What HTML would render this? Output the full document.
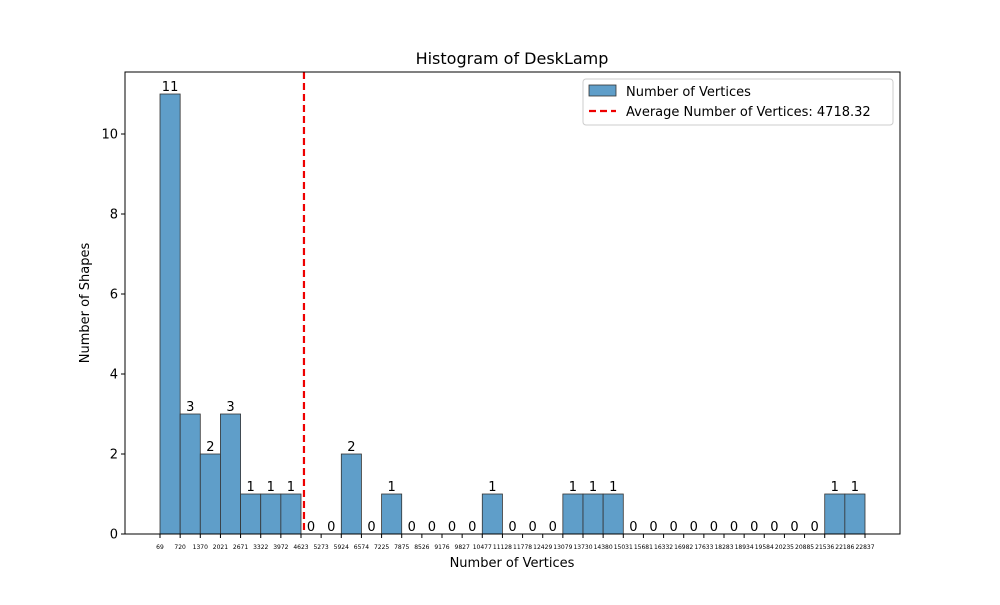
<!DOCTYPE html>
<html><head><meta charset="utf-8"><style>body{margin:0;background:#fff}svg{font-family:"DejaVu Sans","Liberation Sans",sans-serif}</style></head>
<body>
<svg width="1000" height="600" viewBox="0 0 1000 600">
<g id="bars"></g><g id="ticks"></g>
<line id="avg" y1="72" y2="534" stroke="#e00" stroke-width="2.2" stroke-dasharray="7,4"/>
<rect x="125" y="72" width="775" height="462" fill="none" stroke="#000" stroke-width="1"/>
<text x="512" y="64" text-anchor="middle" font-size="16">Histogram of DeskLamp</text>
<text x="512" y="567" text-anchor="middle" font-size="13">Number of Vertices</text>
<text transform="translate(89,303) rotate(-90)" text-anchor="middle" font-size="13">Number of Shapes</text>
<g>
<rect x="583" y="79" width="310" height="46" fill="#fff" stroke="#ccc" rx="3"/>
<rect x="589" y="85" width="27" height="11" fill="#5f9ec9" stroke="#333" stroke-width="0.8"/>
<text x="626" y="96" font-size="13">Number of Vertices</text>
<line x1="589" x2="616" y1="111" y2="111" stroke="#e00" stroke-width="2.2" stroke-dasharray="7,4"/>
<text x="626" y="116" font-size="13">Average Number of Vertices: 4718.32</text>
</g>
</svg>
<script>
const edges=[69,720,1370,2021,2671,3322,3972,4623,5273,5924,6574,7225,7875,8526,9176,9827,10477,11128,11778,12429,13079,13730,14380,15031,15681,16332,16982,17633,18283,18934,19584,20235,20885,21536,22186,22837];
const counts=[11,3,2,3,1,1,1,0,0,2,0,1,0,0,0,0,1,0,0,0,1,1,1,0,0,0,0,0,0,0,0,0,0,1,1];
const yTicks=[0,2,4,6,8,10];
const average=4718.32;
const ns="http://www.w3.org/2000/svg";
const x=v=>160+(v-69)/(22837-69)*705;
const y=v=>534-v*40;
const bars=document.getElementById('bars'),ticks=document.getElementById('ticks');
function mk(t,a,p){const e=document.createElementNS(ns,t);for(const k in a)e.setAttribute(k,a[k]);p.appendChild(e);return e;}
counts.forEach((c,i)=>{
 const x0=x(edges[i]),x1=x(edges[i+1]);
 const r=mk('rect',{x:x0,y:y(c),width:x1-x0,height:y(0)-y(c),fill:'#5f9ec9',stroke:'#333','stroke-width':0.8},bars);
 
 
 const t=mk('text',{x:(x0+x1)/2,y:y(c)-3,'text-anchor':'middle','font-size':13},bars);
 t.textContent=c;
 
 
});
edges.forEach(v=>{
 const l=mk('line',{x1:x(v),x2:x(v),y1:534,y2:538,stroke:'#000'},ticks);
 
 
 const t=mk('text',{x:x(v),y:549,'text-anchor':'middle','font-size':6},ticks);
 t.textContent=v;
 
 
});
yTicks.forEach(v=>{
 const l=mk('line',{x1:121,x2:125,y1:y(v),y2:y(v),stroke:'#000'},ticks);
 
 
 const t=mk('text',{x:118,y:y(v)+4.5,'text-anchor':'end','font-size':13},ticks);
 t.textContent=v;
 
 
});
const a=document.getElementById('avg');a.setAttribute('x1',x(average));a.setAttribute('x2',x(average));
</script>
</body></html>
